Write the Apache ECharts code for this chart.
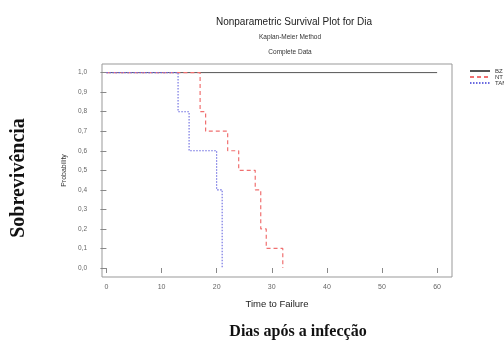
<!DOCTYPE html>
<html><head><meta charset="utf-8">
<script src="https://cdn.jsdelivr.net/npm/echarts@6/dist/echarts.min.js"></script>
<style>html,body{margin:0;padding:0;background:#fff}#c{width:504px;height:348px}</style>
</head><body><div id="c"></div>
<script>
const xTicks = [0, 10, 20, 30, 40, 50, 60];
const yTicks = [0, 0.1, 0.2, 0.3, 0.4, 0.5, 0.6, 0.7, 0.8, 0.9, 1.0];
const seriesNames = ['BZ', 'NT', 'TAM'];
const timeBZ = [0, 60];
const survBZ = [1, 1];
const timeNT = [0, 17, 18, 22, 24, 27, 28, 29, 32];
const survNT = [1, 0.8, 0.7, 0.6, 0.5, 0.4, 0.2, 0.1, 0];
const timeTAM = [0, 13, 15, 20, 21];
const survTAM = [1, 0.8, 0.6, 0.4, 0];

const pairs = (t, s) => t.map((v, i) => [v, s[i]]);
const F = '"Liberation Sans", Arial, sans-serif';
const chart = echarts.init(document.getElementById('c'), null, {renderer: 'canvas'});
chart.setOption({
  animation: false,
  backgroundColor: '#fff',
  title: [
    {text: 'Nonparametric Survival Plot for Dia', left: 289, top: 12, textAlign: 'center',
     textStyle: {fontFamily: F, fontSize: 10, fontWeight: 'normal', color: '#222'}},
    {text: 'Kaplan-Meier Method', left: 285, top: 29, textAlign: 'center',
     textStyle: {fontFamily: F, fontSize: 6.5, fontWeight: 'normal', color: '#333'}},
    {text: 'Complete Data', left: 285, top: 44, textAlign: 'center',
     textStyle: {fontFamily: F, fontSize: 6.5, fontWeight: 'normal', color: '#333'}},
    {text: 'Dias após a infecção', left: 293, top: 319, textAlign: 'center',
     textStyle: {fontFamily: '"Liberation Serif", serif', fontSize: 16, fontWeight: 'bold', color: '#111'}}
  ],
  graphic: [
    {type: 'text', x: 19, y: 178, rotation: Math.PI / 2,
     style: {text: 'Sobrevivência', font: 'bold 20px "Liberation Serif", serif', fill: '#111',
             textAlign: 'center', textVerticalAlign: 'middle'}}
  ],
  legend: {
    orient: 'vertical', left: 464, top: 63, itemWidth: 20, itemHeight: 4, itemGap: 0,
    itemStyle: {opacity: 0},
    textStyle: {fontFamily: F, fontSize: 6, color: '#333', lineHeight: 6},
    data: seriesNames
  },
  grid: {left: 102, right: 52, top: 64, bottom: 71, show: true, borderColor: '#999', borderWidth: 1},
  xAxis: {
    type: 'value', min: -0.8, max: 62.7,
    name: 'Time to Failure', nameLocation: 'middle', nameGap: 22,
    nameTextStyle: {fontFamily: F, fontSize: 9.5, color: '#222'},
    axisLine: {show: false}, splitLine: {show: false},
    axisTick: {show: true, inside: false, length: 5, lineStyle: {color: '#888'}, customValues: xTicks},
    axisLabel: {fontFamily: F, fontSize: 7, color: '#666', margin: 7, customValues: xTicks}
  },
  yAxis: {
    type: 'value', min: -0.046, max: 1.044,
    name: 'Probability', nameLocation: 'middle', nameGap: 32, nameRotate: 90,
    nameTextStyle: {fontFamily: F, fontSize: 7, color: '#333'},
    axisLine: {show: false}, splitLine: {show: false},
    axisTick: {show: true, inside: false, length: 6, lineStyle: {color: '#888'}, customValues: yTicks},
    axisLabel: {fontFamily: F, fontSize: 6.5, color: '#666', margin: 15, customValues: yTicks,
      formatter: v => v.toFixed(1).replace('.', ',')}
  },
  series: [
    {name: 'BZ', type: 'line', step: 'end', symbol: 'none', data: pairs(timeBZ, survBZ),
     lineStyle: {color: '#555', width: 1, type: 'solid'}, itemStyle: {color: '#555'}},
    {name: 'NT', type: 'line', step: 'end', symbol: 'none', data: pairs(timeNT, survNT),
     lineStyle: {color: '#f07070', width: 1.2, type: [4, 3]}, itemStyle: {color: '#f07070'}},
    {name: 'TAM', type: 'line', step: 'end', symbol: 'none', data: pairs(timeTAM, survTAM),
     lineStyle: {color: '#6a6ae0', width: 1.1, type: [1.5, 1.5]}, itemStyle: {color: '#6a6ae0'}}
  ]
});
</script></body></html>
